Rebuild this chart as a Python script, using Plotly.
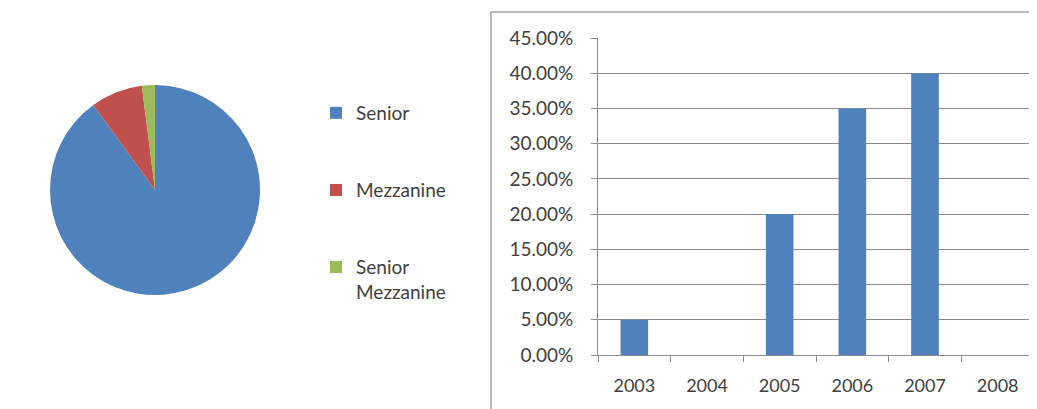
import plotly.graph_objects as go

# Pie data
pie_labels = ["Senior", "Mezzanine", "Senior<br>Mezzanine"]
pie_values = [90, 8, 2]
pie_colors = ["#4F81BD", "#C0504D", "#9BBB59"]

# Bar data
years = ["2003", "2004", "2005", "2006", "2007", "2008"]
shares = [0.05, 0.0, 0.20, 0.35, 0.40, 0.0]
y_ticks = [0.0, 0.05, 0.10, 0.15, 0.20, 0.25, 0.30, 0.35, 0.40, 0.45]

W, H = 1037, 409
OFF = 8  # page body margin offset
font_family = "Lato, 'Open Sans', sans-serif"
text_color = "#404040"


def px(x):
    return (x - OFF) / W


def py(y):
    return (H - (y - OFF)) / H


# Legend spacing via blank lines (symbol aligned to first line)
legend_labels = ["Senior<br> <br> ", "Mezzanine<br> <br> ", "Senior<br>Mezzanine"]

fig = go.Figure()

fig.add_trace(go.Pie(
    labels=legend_labels,
    values=pie_values,
    marker=dict(colors=pie_colors, line=dict(width=0)),
    sort=False,
    direction="clockwise",
    rotation=0,
    textinfo="none",
    hovertemplate="%{customdata}: %{percent}<extra></extra>",
    customdata=pie_labels,
    domain=dict(x=[px(45), px(265)], y=[py(295), py(85)]),
    showlegend=True,
))

fig.add_trace(go.Bar(
    x=years,
    y=shares,
    marker=dict(color="#4F81BD", line=dict(width=0)),
    width=0.38,
    showlegend=False,
    xaxis="x",
    yaxis="y",
))

fig.update_layout(
    width=W,
    height=H,
    margin=dict(l=0, r=0, t=0, b=0, autoexpand=False),
    paper_bgcolor="white",
    plot_bgcolor="white",
    font=dict(family=font_family, size=18, color=text_color),
    xaxis=dict(
        domain=[px(598), px(1034)],
        type="category",
        automargin=False,
        showline=True,
        linecolor="#8c8c8c",
        linewidth=1,
        ticks="outside",
        tickson="boundaries",
        ticklen=6,
        tickcolor="#8c8c8c",
        ticklabelstandoff=14,
        showgrid=False,
        tickfont=dict(size=18, color=text_color),
        anchor="y",
    ),
    yaxis=dict(
        domain=[py(355), py(38)],
        range=[0, 0.45],
        tickvals=y_ticks,
        tickformat=".2%",
        automargin=False,
        showline=True,
        linecolor="#8c8c8c",
        linewidth=1,
        ticks="outside",
        ticklen=6,
        tickcolor="#8c8c8c",
        ticklabelstandoff=14,
        showgrid=True,
        gridcolor="#8c8c8c",
        gridwidth=1,
        zeroline=False,
        tickfont=dict(size=19, color=text_color),
        anchor="x",
    ),
    legend=dict(
        x=px(316),
        y=py(94),
        xanchor="left",
        yanchor="top",
        valign="top",
        font=dict(size=19, color=text_color),
        itemwidth=30,
        bgcolor="rgba(0,0,0,0)",
    ),
    shapes=[dict(
        type="rect",
        xref="paper", yref="paper",
        x0=px(491), x1=1.02, y0=-0.02, y1=py(12),
        line=dict(color="#a6a6a6", width=1.5),
        fillcolor="rgba(0,0,0,0)",
        layer="below",
    )],
)

fig.write_html("out.html")
